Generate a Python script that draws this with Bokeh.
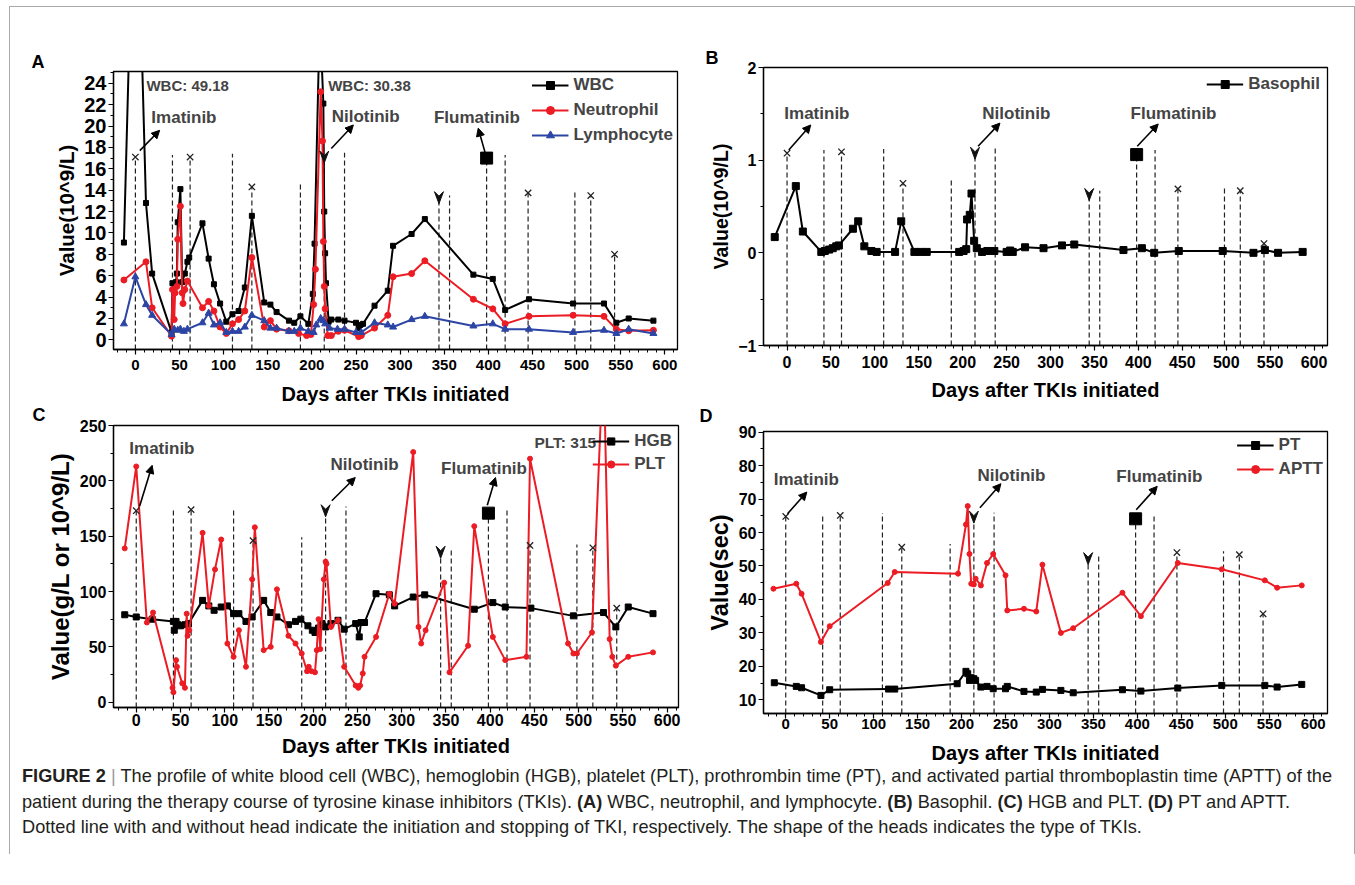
from bokeh.plotting import figure
from bokeh.layouts import row, column
from bokeh.models import (Label, Arrow, NormalHead, Legend, LegendItem, FixedTicker, Div, Title)
from bokeh.embed import file_html
from bokeh.resources import INLINE

FONT = "Liberation Sans"
RED = "#ec1c24"
BLUE = "#2c45a5"

# ---------------- data ----------------
event_days = [0, 42, 62, 110, 132, 187, 214, 237, 344, 356, 398, 419, 445, 498, 516, 543]
event_head = ["x", "none", "x", "none", "x", "none", "arrow", "none", "arrow", "none",
              "square", "none", "x", "none", "x", "x"]
tops_A = [17.1, 17.3, 17.1, 17.4, 14.3, 14.6, 17.1, 17.5, 13.3, 13.5, 17.0, 17.3, 13.75, 13.9, 13.5, 8.0]
tops_B = [1.075, 1.11, 1.09, 1.12, 0.75, 0.79, 1.075, 1.13, 0.63, 0.67, 1.06, 1.11, 0.69, 0.72, 0.67, 0.10]
tops_C = [173, 175.6, 174, 176, 146, 149, 173, 176.8, 135.5, 138.5, 170.8, 175.6, 141.6, 142.5, 139.5, 85]
tops_D = [64.8, 65.6, 65.1, 65.8, 55.6, 56.6, 64.6, 65.9, 52.2, 53.4, 64.1, 65.4, 54.0, 54.4, 53.4, 35.7]

days_wbc = [-13, 0, 12, 19, 41, 42, 46, 47, 48, 51, 53, 56, 59, 61, 76, 83, 89, 96, 103, 110, 117, 124,
            132, 146, 153, 160, 174, 180, 187, 196, 201, 203, 209, 213, 214, 215, 216, 219, 222, 230, 237,
            250, 253, 255, 258, 271, 286, 292, 313, 328, 383, 405, 419, 446, 496, 531, 545, 559, 587]
wbc = [9.1, 49.18, 12.8, 6.2, 0.7, 5.3, 5.4, 6.2, 11.0, 14.1, 5.4, 6.2, 7.3, 7.7, 10.9, 7.6, 5.2, 3.4, 1.7,
       2.4, 2.7, 4.9, 11.6, 3.5, 3.3, 2.6, 1.8, 1.6, 2.2, 1.5, 4.3, 9.0, 30.38, 22.1, 12.0, 8.1, 5.3, 1.7,
       1.9, 1.9, 1.8, 1.6, 1.1, 1.4, 1.5, 3.2, 4.6, 8.8, 9.9, 11.3, 6.1, 5.7, 2.8, 3.8, 3.4, 3.4, 1.6, 2.0, 1.8]

days_neu = [-13, 12, 19, 41, 42, 44, 45, 47, 48, 51, 53, 54, 56, 59, 76, 83, 89, 96, 103, 110, 117, 124,
            132, 146, 153, 160, 174, 185, 194, 199, 202, 204, 210, 212, 213, 214, 215, 218, 222, 230, 237,
            253, 256, 271, 286, 292, 313, 328, 383, 405, 419, 446, 496, 531, 545, 559, 587]
neu = [5.6, 7.3, 3.0, 0.35, 4.7, 1.9, 4.4, 5.0, 9.4, 12.5, 4.4, 3.4, 4.7, 5.5, 3.0, 3.6, 2.7, 1.2, 0.6, 1.5,
       1.9, 2.7, 7.7, 1.2, 1.8, 1.0, 0.85, 0.6, 0.4, 0.5, 3.3, 6.6, 23.2, 18.6, 9.2, 5.0, 2.9, 0.4, 0.4,
       0.8, 0.9, 0.3, 0.4, 1.1, 2.3, 5.9, 6.2, 7.4, 3.8, 2.9, 1.5, 2.2, 2.3, 2.2, 1.0, 0.85, 0.9]

days_lym = [-13, 0, 12, 19, 41, 44, 48, 51, 55, 59, 76, 83, 89, 96, 103, 110, 117, 124, 132, 146, 153, 160,
            174, 180, 187, 196, 202, 205, 210, 213, 215, 220, 229, 237, 250, 256, 271, 286, 292, 313, 328,
            383, 405, 419, 446, 496, 531, 545, 559, 587]
lym = [1.5, 5.9, 3.3, 2.3, 0.5, 1.0, 0.9, 1.0, 0.8, 1.0, 1.6, 2.5, 1.4, 1.6, 0.7, 0.8, 0.8, 1.2, 2.3, 1.8,
       1.1, 1.1, 0.8, 0.8, 1.1, 0.8, 0.7, 1.4, 2.0, 1.8, 1.5, 1.1, 1.0, 1.0, 0.7, 0.7, 1.6, 1.4, 1.2, 1.9,
       2.2, 1.3, 1.5, 1.0, 1.0, 0.7, 0.9, 0.6, 1.0, 0.6]

days_baso = [-14, 10, 18, 39, 43, 48, 52, 56, 59, 75, 81, 88, 96, 102, 123, 130, 145, 152, 159, 196, 201,
             204, 205, 208, 210, 213, 216, 222, 228, 236, 250, 254, 257, 271, 292, 313, 327, 383, 404, 418,
             446, 496, 531, 544, 559, 587]
baso = [0.17, 0.72, 0.23, 0.01, 0.02, 0.035, 0.05, 0.07, 0.08, 0.26, 0.34, 0.07, 0.02, 0.01, 0.01, 0.34,
        0.01, 0.01, 0.01, 0.01, 0.02, 0.04, 0.36, 0.41, 0.64, 0.13, 0.05, 0.01, 0.02, 0.02, 0.01, 0.025,
        0.01, 0.06, 0.05, 0.08, 0.09, 0.03, 0.05, 0.0, 0.02, 0.02, 0.0, 0.03, 0.0, 0.01]

days_hgb = [-13, 0, 18, 42, 43, 45, 47, 50, 55, 59, 75, 82, 88, 96, 103, 110, 116, 124, 131, 144, 152, 159,
            172, 180, 186, 194, 199, 202, 206, 210, 214, 220, 228, 235, 248, 252, 254, 258, 271, 286, 292,
            313, 326, 382, 403, 417, 446, 494, 528, 542, 556, 584]
hgb = [79, 77, 75, 73, 65, 73, 70, 69, 70, 71, 92, 87, 83, 86, 87, 80, 80, 73, 77, 92, 81, 77, 70, 73, 75,
       69, 65, 63, 67, 71, 68, 71, 74, 66, 71, 59, 72, 72, 98, 97, 87, 95, 97, 84, 90, 86, 85, 78, 81, 68,
       86, 80]

days_plt = [-13, 0, 12, 19, 41, 42, 45, 46, 52, 55, 57, 58, 60, 75, 82, 89, 96, 103, 110, 116, 124, 131,
            134, 144, 152, 159, 172, 180, 187, 193, 195, 198, 202, 204, 206, 208, 212, 214, 215, 220, 228,
            235, 248, 251, 253, 256, 258, 271, 286, 292, 313, 319, 322, 327, 348, 354, 375, 382, 403, 417,
            441, 445, 488, 494, 498, 515, 528, 535, 538, 542, 556, 584]
plt_vals = [139, 213, 72, 81, 13, 9, 38, 32, 17, 13, 80, 60, 65, 153, 87, 120, 147, 53, 41, 65, 32, 111,
            158, 47, 50, 102, 60, 53, 44, 28, 32, 28, 27, 47, 75, 48, 111, 127, 125, 68, 74, 32, 15, 13,
            15, 26, 41, 59, 98, 89, 226, 68, 53, 65, 108, 27, 51, 159, 59, 38, 41, 220, 53, 44, 44, 63,
            315, 57, 41, 33, 41, 45]

days_pt = [-13, 12, 18, 40, 50, 117, 124, 195, 205, 207, 209, 211, 214, 216, 222, 229, 236, 250, 252, 271,
           285, 292, 313, 327, 383, 404, 446, 496, 545, 559, 587]
pt = [15.1, 14.0, 13.6, 11.3, 13.0, 13.2, 13.2, 14.8, 18.5, 17.8, 15.8, 16.6, 16.3, 15.8, 13.8, 14.0, 13.3,
      13.3, 14.0, 12.5, 12.3, 13.1, 12.8, 12.1, 13.0, 12.6, 13.5, 14.3, 14.3, 13.8, 14.6]

days_aptt = [-14, 12, 18, 40, 50, 116, 124, 196, 205, 207, 209, 211, 214, 216, 222, 229, 236, 250, 252,
             271, 285, 292, 313, 327, 383, 404, 446, 496, 545, 559, 587]
aptt = [43.2, 44.7, 41.7, 27.3, 32.0, 44.9, 48.2, 47.7, 62.4, 67.9, 53.6, 44.7, 44.5, 46.2, 44.2, 50.9,
        53.6, 47.2, 36.7, 37.2, 36.4, 50.4, 30.0, 31.4, 42.0, 35.0, 50.9, 49.0, 45.7, 43.5, 44.2]

drug_names = ["Imatinib", "Nilotinib", "Flumatinib"]
drug_label_A = [(55, 20.8), (261, 20.9), (387, 20.8)]
drug_arrow_A = [(5, 17.7, 27.5, 19.6), (222, 17.9, 247, 20.1), (397, 17.3, 388.5, 19.8)]
drug_label_B = [(34, 1.5), (261, 1.5), (440, 1.5)]
drug_arrow_B = [(2, 1.11, 27, 1.38), (217.5, 1.15, 242.4, 1.40), (398.7, 1.15, 422.6, 1.39)]
drug_label_C = [(29, 229), (258, 215), (393, 211)]
drug_arrow_C = [(3.8, 177, 18, 214), (221, 182, 247.5, 203), (396.7, 178, 406, 203)]
drug_label_D = [(23.4, 75.9), (256.7, 77), (425, 76.6)]
drug_arrow_D = [(2, 65.6, 24, 72.1), (220.9, 67.4, 244.8, 74.6), (398.7, 66.8, 422.6, 73.8)]

x_major = list(range(0, 601, 50))
x_minor = [v for v in range(-20, 611, 10) if v % 50 != 0]


def make_panel(w, h, fl, ft, fr, fb, xr, yr, yticks, yminor, ylabel, xtick_size, ytick_size,
               ylab_size, letter, loff, lstand, xstand, xlstand, margin=None):
    kw = {}
    if margin is not None:
        kw["margin"] = margin
    p = figure(width=w, height=h, min_border_left=fl, min_border_top=ft,
               min_border_right=fr, min_border_bottom=fb, x_range=xr, y_range=yr,
               output_backend="svg", toolbar_location=None, title=None, **kw)
    p.xgrid.visible = False
    p.ygrid.visible = False
    p.outline_line_color = "black"
    p.outline_line_width = 1.3
    p.background_fill_color = "white"
    p.border_fill_color = None
    p.xaxis.ticker = FixedTicker(ticks=x_major, minor_ticks=x_minor)
    p.yaxis.ticker = FixedTicker(ticks=yticks, minor_ticks=yminor)
    for ax, size in ((p.xaxis, xtick_size), (p.yaxis, ytick_size)):
        ax.major_label_text_font = FONT
        ax.major_label_text_font_style = "bold"
        ax.major_label_text_font_size = size
        ax.major_label_text_color = "black"
        ax.axis_label_text_font = FONT
        ax.axis_label_text_font_style = "bold"
        ax.axis_label_text_color = "black"
        ax.major_tick_out = 5
        ax.major_tick_in = 0
        ax.minor_tick_out = 3
        ax.minor_tick_in = 0
        ax.axis_line_width = 1.3
        ax.major_tick_line_width = 1.2
        ax.minor_tick_line_width = 1
    p.xaxis.major_label_standoff = xstand
    p.xaxis.axis_label_standoff = xlstand
    p.yaxis.major_label_standoff = 2
    p.yaxis.axis_label_standoff = 3
    p.xaxis.axis_label = "Days after TKIs initiated"
    p.xaxis.axis_label_text_font_size = "20px"
    p.yaxis.axis_label = ylabel
    p.yaxis.axis_label_text_font_size = ylab_size
    p.add_layout(Title(text=letter, align="left", offset=loff, standoff=lstand, text_font=FONT,
                       text_font_size="18px", text_font_style="bold", text_color="black"), "above")
    fw = w - fl - fr
    fh = h - ft - fb
    ux = (xr[1] - xr[0]) / fw
    uy = (yr[1] - yr[0]) / fh
    return p, ux, uy


def add_events(p, yr, tops):
    p.segment(x0=event_days, y0=[yr[0]] * len(event_days), x1=event_days, y1=tops,
              line_dash="5 3", line_color="#222222", line_width=1.2)


def add_heads(p, tops, ux, uy, labels, arrows):
    xi = [d for d, h in zip(event_days, event_head) if h == "x"]
    yi = [t for t, h in zip(tops, event_head) if h == "x"]
    p.scatter(xi, yi, marker="x", size=9, line_color="#222222", line_width=1.3)
    xs_ = [d for d, h in zip(event_days, event_head) if h == "square"]
    ys_ = [t for t, h in zip(tops, event_head) if h == "square"]
    p.scatter(xs_, ys_, marker="square", size=12, fill_color="black", line_color="black")
    pxs, pys = [], []
    for d, t, h in zip(event_days, tops, event_head):
        if h == "arrow":
            pxs.append([d, d - 4.5 * ux, d, d + 4.5 * ux])
            pys.append([t - 6 * uy, t + 6 * uy, t + 1.5 * uy, t + 6 * uy])
    p.patches(pxs, pys, fill_color="#111111", line_color="#111111", line_width=1)
    for name, (lx, ly), (x0, y0, x1, y1) in zip(drug_names, labels, arrows):
        p.add_layout(Arrow(end=NormalHead(size=8, fill_color="black", line_color="black", line_width=1),
                           x_start=x0, y_start=y0, x_end=x1, y_end=y1,
                           line_width=1.6, line_color="black"))
        p.add_layout(Label(x=lx, y=ly, text=name, text_align="center", text_baseline="middle",
                           text_font=FONT, text_font_style="bold", text_font_size="17px"))


def series(p, x, y, color, marker, msize, lw=2):
    r1 = p.line(x, y, line_color=color, line_width=lw)
    r2 = p.scatter(x, y, marker=marker, size=msize, fill_color=color, line_color=color)
    return [r1, r2]


def legend(p, items, lh, spacing, pad):
    lg = Legend(items=[LegendItem(label=k, renderers=v) for k, v in items], location="top_right",
                background_fill_alpha=0, border_line_alpha=0, label_text_font=FONT,
                label_text_font_style="bold", label_text_font_size="17px", glyph_width=37,
                glyph_height=lh, label_height=lh, spacing=spacing, padding=pad, margin=0,
                label_standoff=5)
    p.add_layout(lg)


# ---------------- Panel A ----------------
xrA = (-24.8, 614.3)
yrA = (-0.9, 25.1)
pA, uxA, uyA = make_panel(690, 432, 103, 64, 23, 90, xrA, yrA, list(range(0, 25, 2)),
                          list(range(1, 26, 2)), "Value(10^9/L)", "15px", "20px", "20.5px",
                          "A", -82, 0, 5, 10)
add_events(pA, yrA, tops_A)
rw = series(pA, days_wbc, wbc, "black", "square", 5)
rn = series(pA, days_neu, neu, RED, "circle", 6)
rl = series(pA, days_lym, lym, BLUE, "triangle", 7)
add_heads(pA, tops_A, uxA, uyA, drug_label_A, drug_arrow_A)
for txt, x, y in (("WBC: 49.18", 12.5, 23.8), ("WBC: 30.38", 218.5, 23.8)):
    pA.add_layout(Label(x=x, y=y, text=txt, text_align="left", text_baseline="middle",
                        text_font=FONT, text_font_style="bold", text_font_size="15px"))
legend(pA, [("WBC", rw), ("Neutrophil", rn), ("Lymphocyte", rl)], 20, 5, 4)

# ---------------- Panel B ----------------
xrB = (-26.8, 615.3)
yrB = (-1.0, 2.0)
pB, uxB, uyB = make_panel(654, 432, 63, 64, 27, 90, xrB, yrB, [-1, 0, 1, 2], [-0.5, 0.5, 1.5],
                          "Value(10^9/L)", "16px", "16px", "19.6px", "B", -58, 0, 5, 8,
                          margin=(-4, 0, 0, 0))
add_events(pB, yrB, tops_B)
rb = series(pB, days_baso, baso, "black", "square", 7)
add_heads(pB, tops_B, uxB, uyB, drug_label_B, drug_arrow_B)
legend(pB, [("Basophil", rb)], 20, 5, 7)

# ---------------- Panel C ----------------
xrC = (-25.7, 612.8)
yrC = (-4.8, 250.0)
pC, uxC, uyC = make_panel(690, 418, 103, 46, 22, 90, xrC, yrC, list(range(0, 251, 50)),
                          list(range(25, 250, 50)), "Value(g/L or 10^9/L)", "16px", "16px", "24px",
                          "C", -81, 2, 1, 6)
add_events(pC, yrC, tops_C)
rh = series(pC, days_hgb, hgb, "black", "square", 6)
rp = series(pC, days_plt, plt_vals, RED, "circle", 5)
add_heads(pC, tops_C, uxC, uyC, drug_label_C, drug_arrow_C)
pC.add_layout(Label(x=450, y=235, text="PLT:  315", text_align="left", text_baseline="middle",
                    text_font=FONT, text_font_style="bold", text_font_size="15.5px"))
legend(pC, [("HGB", rh), ("PLT", rp)], 18, 3, 6)

# ---------------- Panel D ----------------
xrD = (-25.3, 616.3)
yrD = (5.9, 90.2)
pD, uxD, uyD = make_panel(654, 418, 63, 46, 27, 90, xrD, yrD, list(range(10, 91, 10)),
                          list(range(15, 90, 10)), "Value(sec)", "15px", "16px", "23.5px",
                          "D", -64, 11, 0, 10, margin=(6, 0, 0, 0))
add_events(pD, yrD, tops_D)
rpt = series(pD, days_pt, pt, "black", "square", 6)
rap = series(pD, days_aptt, aptt, RED, "circle", 5)
add_heads(pD, tops_D, uxD, uyD, drug_label_D, drug_arrow_D)
legend(pD, [("PT", rpt), ("APTT", rap)], 20, 4, 4)

# ---------------- caption ----------------
cap_html = (
    '<div style="font-family:\'Liberation Sans\',Arial,sans-serif;font-size:18.2px;line-height:25.5px;'
    'color:#231f20;white-space:nowrap;padding-left:12px;">'
    '<b>FIGURE 2</b> <span style="color:#9a9a9a">|</span> The profile of white blood cell (WBC), '
    'hemoglobin (HGB), platelet (PLT), prothrombin time (PT), and activated partial thromboplastin '
    'time (APTT) of the<br>'
    'patient during the therapy course of tyrosine kinase inhibitors (TKIs). <b>(A)</b> WBC, neutrophil, '
    'and lymphocyte. <b>(B)</b> Basophil. <b>(C)</b> HGB and PLT. <b>(D)</b> PT and APTT.<br>'
    'Dotted line with and without head indicate the initiation and stopping of TKI, respectively. '
    'The shape of the heads indicates the type of TKIs.'
    '</div>')
cap = Div(text=cap_html, width=1344, height=90, margin=(-39, 0, 0, 0))

layout = column(row(pA, pB), row(pC, pD, margin=(-60, 0, 0, 0)), cap, margin=(6, 0, 0, 9),
                styles={"border-top": "1px solid #aaaaaa", "border-left": "1px solid #aaaaaa",
                        "border-right": "1px solid #aaaaaa"})

open("out.html", "w").write(file_html(layout, INLINE))
